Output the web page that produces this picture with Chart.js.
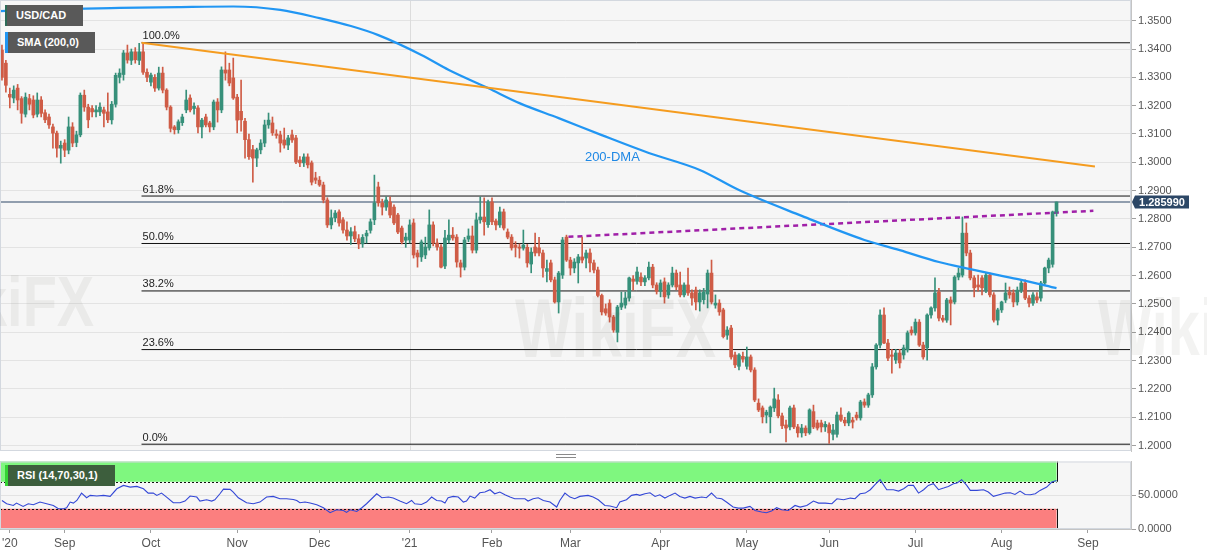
<!DOCTYPE html>
<html>
<head>
<meta charset="utf-8">
<title>USD/CAD daily with 200-DMA and RSI</title>
<script src="https://cdn.jsdelivr.net/npm/chart.js@4.4.1/dist/chart.umd.min.js"></script>
<style>
  html, body { margin: 0; padding: 0; background: #fff; }
  #wrap { position: relative; width: 1207px; height: 555px; overflow: hidden; font-family: "Liberation Sans", Arial, sans-serif; }
  canvas { position: absolute; left: 0; }
  #priceCanvas { top: 0; }
  #rsiCanvas { top: 452px; }
  .tag { position: absolute; left: 5px; height: 21px; line-height: 21px; color: #fff; font-weight: bold; font-size: 11px; padding-left: 9px; box-sizing: border-box; background: #595959; }
  #tagPair { top: 5px; width: 78px; border-left: 2px solid #2c6b58; }
  #tagSma { top: 32px; width: 90px; border-left: 3px solid #2196f3; }
  #tagRsi { top: 465px; width: 110px; background: #3d5e3d; border-left: 3px solid #35d335; }
  .wm { position: absolute; font-weight: 900; color: rgba(90, 80, 70, 0.07); pointer-events: none; white-space: nowrap; transform-origin: left top; }
  #grip { position: absolute; left: 556px; top: 454px; width: 20px; height: 2px; border-top: 1px solid #8a8a8a; border-bottom: 1px solid #8a8a8a; }
</style>
</head>
<body>
<div id="wrap">
  <canvas id="priceCanvas" width="1207" height="452"></canvas>
  <canvas id="rsiCanvas" width="1207" height="103"></canvas>
  <div class="wm" style="left:-92px; top:262px; font-size:70px; transform:scaleX(0.8);">WikiFX</div>
  <div class="wm" style="left:515px; top:280px; font-size:84px; transform:scaleX(0.72);">WikiFX</div>
  <div class="wm" style="left:1098px; top:282px; font-size:80px; transform:scaleX(0.72);">WikiFX</div>
  <div class="tag" id="tagPair">USD/CAD</div>
  <div class="tag" id="tagSma">SMA (200,0)</div>
  <div class="tag" id="tagRsi">RSI (14,70,30,1)</div>
  <div id="grip"></div>
</div>
<script>
// daily candles, trading day index 0 = 10 Aug 2020 ... 269 = 20 Aug 2021
// [open, high, low, close]
const candles = [
  [1.3396,1.3414,1.3290,1.3300],[1.3350,1.3360,1.3248,1.3272],[1.3240,1.3262,1.3192,1.3230],[1.3227,1.3270,1.3210,1.3255],
  [1.3262,1.3275,1.3185,1.3220],[1.3225,1.3232,1.3138,1.3173],[1.3170,1.3245,1.3160,1.3230],[1.3225,1.3240,1.3185,1.3205],
  [1.3220,1.3235,1.3157,1.3167],[1.3170,1.3245,1.3160,1.3220],[1.3220,1.3232,1.3160,1.3173],[1.3175,1.3185,1.3140,1.3150],
  [1.3160,1.3170,1.3120,1.3132],[1.3125,1.3135,1.3050,1.3103],[1.3103,1.3110,1.3018,1.3050],[1.3050,1.3075,1.2997,1.3060],
  // Sep 2020
  [1.3068,1.3080,1.3020,1.3043],[1.3043,1.3160,1.3030,1.3125],[1.3125,1.3140,1.3055,1.3068],[1.3070,1.3110,1.3055,1.3097],
  [1.3097,1.3245,1.3090,1.3237],[1.3237,1.3255,1.3180,1.3195],[1.3195,1.3205,1.3122,1.3150],[1.3190,1.3200,1.3160,1.3178],
  [1.3178,1.3200,1.3160,1.3185],[1.3178,1.3210,1.3165,1.3195],[1.3185,1.3195,1.3125,1.3173],[1.3178,1.3245,1.3140,1.3150],
  [1.3150,1.3215,1.3135,1.3205],[1.3205,1.3315,1.3195,1.3307],[1.3300,1.3330,1.3280,1.3315],[1.3310,1.3395,1.3290,1.3386],
  [1.3386,1.3414,1.3350,1.3361],[1.3360,1.3400,1.3345,1.3390],[1.3390,1.3405,1.3350,1.3362],[1.3360,1.3420,1.3345,1.3390],
  [1.3390,1.3420,1.3310,1.3318],[1.3318,1.3330,1.3285,1.3300],
  // Oct 2020
  [1.3283,1.3315,1.3270,1.3308],[1.3300,1.3310,1.3250,1.3262],[1.3262,1.3336,1.3255,1.3315],[1.3315,1.3336,1.3245,1.3255],
  [1.3255,1.3260,1.3185,1.3195],[1.3195,1.3200,1.3107,1.3120],[1.3125,1.3130,1.3100,1.3115],[1.3115,1.3150,1.3103,1.3143],
  [1.3140,1.3170,1.3130,1.3160],[1.3185,1.3255,1.3175,1.3220],[1.3227,1.3238,1.3178,1.3185],[1.3190,1.3210,1.3170,1.3198],
  [1.3192,1.3200,1.3104,1.3125],[1.3125,1.3155,1.3086,1.3149],[1.3160,1.3170,1.3125,1.3132],[1.3139,1.3145,1.3107,1.3125],
  [1.3125,1.3220,1.3115,1.3213],[1.3213,1.3225,1.3142,1.3185],[1.3185,1.3337,1.3175,1.3326],[1.3326,1.3390,1.3290,1.3315],
  [1.3326,1.3350,1.3270,1.3280],[1.3298,1.3368,1.3222,1.3227],
  // Nov 2020
  [1.3230,1.3240,1.3104,1.3149],[1.3180,1.3290,1.3110,1.3150],[1.3145,1.3155,1.3015,1.3080],[1.3080,1.3100,1.3010,1.3020],
  [1.3045,1.3060,1.2930,1.3015],[1.3015,1.3050,1.2985,1.3044],[1.3044,1.3080,1.3030,1.3068],[1.3068,1.3149,1.3055,1.3132],
  [1.3132,1.3174,1.3120,1.3149],[1.3139,1.3160,1.3095,1.3104],[1.3100,1.3115,1.3085,1.3095],[1.3097,1.3110,1.3036,1.3068],
  [1.3079,1.3121,1.3050,1.3061],[1.3061,1.3095,1.3045,1.3086],[1.3097,1.3114,1.3070,1.3079],[1.3086,1.3095,1.2995,1.3001],
  [1.3008,1.3020,1.2985,1.2998],[1.2998,1.3030,1.2985,1.3019],[1.3019,1.3030,1.2980,1.2991],[1.2998,1.3005,1.2920,1.2930],
  [1.2945,1.2965,1.2925,1.2937],
  // Dec 2020
  [1.2937,1.2950,1.2915,1.2920],[1.2920,1.2930,1.2857,1.2867],[1.2867,1.2875,1.2770,1.2779],[1.2779,1.2832,1.2765,1.2804],
  [1.2804,1.2830,1.2790,1.2821],[1.2825,1.2832,1.2775,1.2786],[1.2797,1.2805,1.2750,1.2761],[1.2761,1.2790,1.2725,1.2740],
  [1.2740,1.2770,1.2710,1.2755],[1.2755,1.2775,1.2720,1.2730],[1.2730,1.2745,1.2695,1.2712],[1.2712,1.2745,1.2700,1.2735],
  [1.2740,1.2760,1.2715,1.2750],[1.2760,1.2800,1.2750,1.2790],[1.2797,1.2955,1.2780,1.2857],[1.2913,1.2930,1.2845,1.2857],
  [1.2857,1.2870,1.2814,1.2842],[1.2842,1.2878,1.2830,1.2867],[1.2860,1.2878,1.2805,1.2814],[1.2842,1.2850,1.2780,1.2786],
  [1.2814,1.2820,1.2748,1.2754],[1.2768,1.2775,1.2712,1.2719],[1.2725,1.2750,1.2700,1.2736],
  // Jan 2021
  [1.2726,1.2797,1.2715,1.2779],[1.2786,1.2800,1.2662,1.2673],[1.2680,1.2690,1.2630,1.2666],[1.2666,1.2726,1.2650,1.2719],
  [1.2673,1.2736,1.2660,1.2701],[1.2698,1.2832,1.2690,1.2779],[1.2779,1.2790,1.2705,1.2715],[1.2715,1.2730,1.2690,1.2701],
  [1.2701,1.2710,1.2627,1.2630],[1.2634,1.2760,1.2625,1.2733],[1.2726,1.2797,1.2715,1.2743],[1.2743,1.2770,1.2725,1.2733],
  [1.2736,1.2745,1.2630,1.2648],[1.2645,1.2655,1.2595,1.2630],[1.2630,1.2735,1.2620,1.2726],[1.2729,1.2765,1.2720,1.2740],
  [1.2740,1.2775,1.2680,1.2690],[1.2690,1.2821,1.2680,1.2797],[1.2797,1.2878,1.2785,1.2807],[1.2807,1.2875,1.2743,1.2790],
  [1.2780,1.2867,1.2770,1.2860],
  // Feb 2021
  [1.2860,1.2875,1.2780,1.2790],[1.2793,1.2800,1.2761,1.2779],[1.2779,1.2842,1.2770,1.2825],[1.2825,1.2835,1.2761,1.2768],
  [1.2754,1.2765,1.2730,1.2736],[1.2736,1.2745,1.2690,1.2698],[1.2708,1.2720,1.2666,1.2700],[1.2701,1.2712,1.2662,1.2697],
  [1.2697,1.2761,1.2690,1.2708],[1.2700,1.2710,1.2630,1.2645],[1.2641,1.2698,1.2610,1.2683],[1.2701,1.2750,1.2670,1.2680],
  [1.2698,1.2735,1.2670,1.2680],[1.2680,1.2690,1.2595,1.2627],[1.2615,1.2655,1.2578,1.2625],[1.2645,1.2655,1.2578,1.2585],
  [1.2585,1.2595,1.2503,1.2507],[1.2507,1.2615,1.2468,1.2609],[1.2602,1.2735,1.2590,1.2726],[1.2736,1.2743,1.2650,1.2655],
  // Mar 2021
  [1.2655,1.2665,1.2602,1.2627],[1.2627,1.2660,1.2610,1.2648],[1.2645,1.2675,1.2574,1.2666],[1.2666,1.2736,1.2645,1.2655],
  [1.2662,1.2690,1.2627,1.2680],[1.2680,1.2695,1.2613,1.2645],[1.2645,1.2655,1.2610,1.2620],[1.2620,1.2630,1.2525,1.2530],
  [1.2530,1.2535,1.2461,1.2472],[1.2483,1.2500,1.2460,1.2468],[1.2503,1.2515,1.2436,1.2454],[1.2454,1.2460,1.2400,1.2408],
  [1.2400,1.2495,1.2366,1.2489],[1.2489,1.2542,1.2480,1.2503],[1.2496,1.2542,1.2485,1.2521],[1.2521,1.2595,1.2510,1.2592],
  [1.2588,1.2600,1.2549,1.2580],[1.2580,1.2630,1.2570,1.2613],[1.2595,1.2610,1.2565,1.2578],[1.2578,1.2600,1.2565,1.2592],
  [1.2592,1.2648,1.2585,1.2630],[1.2630,1.2640,1.2557,1.2567],[1.2567,1.2575,1.2535,1.2545],
  // Apr 2021
  [1.2545,1.2585,1.2525,1.2574],[1.2578,1.2592,1.2503,1.2525],[1.2532,1.2575,1.2520,1.2567],[1.2567,1.2630,1.2560,1.2609],
  [1.2609,1.2620,1.2550,1.2560],[1.2567,1.2613,1.2525,1.2532],[1.2532,1.2575,1.2525,1.2567],[1.2567,1.2627,1.2530,1.2539],
  [1.2539,1.2550,1.2496,1.2521],[1.2549,1.2560,1.2479,1.2507],[1.2507,1.2550,1.2475,1.2539],[1.2515,1.2555,1.2500,1.2542],
  [1.2535,1.2620,1.2486,1.2609],[1.2609,1.2655,1.2500,1.2507],[1.2496,1.2532,1.2485,1.2503],[1.2503,1.2515,1.2460,1.2472],
  [1.2479,1.2485,1.2380,1.2385],[1.2390,1.2420,1.2375,1.2408],[1.2415,1.2425,1.2305,1.2313],[1.2320,1.2330,1.2275,1.2285],
  [1.2280,1.2325,1.2267,1.2320],[1.2315,1.2330,1.2295,1.2305],
  // May 2021
  [1.2280,1.2348,1.2270,1.2313],[1.2313,1.2320,1.2260,1.2267],[1.2267,1.2275,1.2155,1.2161],[1.2150,1.2165,1.2120,1.2126],
  [1.2133,1.2140,1.2080,1.2102],[1.2108,1.2125,1.2080,1.2118],[1.2102,1.2140,1.2045,1.2136],[1.2133,1.2203,1.2120,1.2165],
  [1.2161,1.2180,1.2098,1.2105],[1.2105,1.2115,1.2060,1.2070],[1.2073,1.2090,1.2013,1.2062],[1.2066,1.2140,1.2055,1.2133],
  [1.2133,1.2143,1.2060,1.2066],[1.2066,1.2075,1.2030,1.2045],[1.2045,1.2075,1.2030,1.2062],[1.2062,1.2070,1.2035,1.2045],
  [1.2045,1.2130,1.2040,1.2126],[1.2120,1.2143,1.2060,1.2066],[1.2080,1.2090,1.2055,1.2062],[1.2080,1.2090,1.2048,1.2066],
  [1.2066,1.2085,1.2050,1.2075],
  // Jun 2021
  [1.2073,1.2080,1.2008,1.2045],[1.2040,1.2075,1.2020,1.2055],[1.2040,1.2118,1.2030,1.2108],[1.2108,1.2133,1.2085,1.2090],
  [1.2090,1.2100,1.2070,1.2080],[1.2080,1.2120,1.2070,1.2115],[1.2090,1.2100,1.2062,1.2083],[1.2108,1.2118,1.2090,1.2098],
  [1.2098,1.2160,1.2090,1.2154],[1.2154,1.2165,1.2135,1.2143],[1.2143,1.2185,1.2135,1.2179],[1.2179,1.2290,1.2170,1.2278],
  [1.2278,1.2360,1.2270,1.2355],[1.2355,1.2479,1.2345,1.2461],[1.2461,1.2486,1.2360,1.2362],[1.2362,1.2375,1.2300,1.2309],
  [1.2320,1.2340,1.2256,1.2315],[1.2302,1.2340,1.2290,1.2327],[1.2327,1.2340,1.2274,1.2292],[1.2320,1.2355,1.2305,1.2345],
  [1.2338,1.2405,1.2330,1.2398],[1.2408,1.2420,1.2390,1.2398],
  // Jul 2021
  [1.2398,1.2447,1.2390,1.2436],[1.2436,1.2445,1.2350,1.2355],[1.2355,1.2365,1.2305,1.2313],[1.2345,1.2465,1.2302,1.2461],
  [1.2461,1.2490,1.2450,1.2486],[1.2486,1.2592,1.2475,1.2539],[1.2542,1.2555,1.2440,1.2450],[1.2450,1.2460,1.2436,1.2443],
  [1.2443,1.2520,1.2435,1.2514],[1.2514,1.2525,1.2426,1.2503],[1.2507,1.2600,1.2500,1.2595],[1.2595,1.2627,1.2585,1.2609],
  [1.2602,1.2807,1.2595,1.2750],[1.2750,1.2786,1.2670,1.2680],[1.2680,1.2690,1.2585,1.2592],[1.2592,1.2600,1.2525,1.2557],
  [1.2567,1.2602,1.2545,1.2560],[1.2592,1.2600,1.2532,1.2557],[1.2549,1.2610,1.2540,1.2602],[1.2602,1.2609,1.2525,1.2532],
  [1.2532,1.2540,1.2436,1.2443],[1.2443,1.2485,1.2426,1.2479],
  // Aug 2021
  [1.2479,1.2510,1.2470,1.2507],[1.2514,1.2574,1.2505,1.2539],[1.2542,1.2560,1.2520,1.2532],[1.2539,1.2550,1.2490,1.2507],
  [1.2507,1.2560,1.2496,1.2549],[1.2549,1.2585,1.2540,1.2574],[1.2574,1.2585,1.2515,1.2521],[1.2521,1.2530,1.2490,1.2503],
  [1.2503,1.2540,1.2495,1.2532],[1.2525,1.2540,1.2505,1.2514],[1.2521,1.2580,1.2510,1.2574],[1.2574,1.2630,1.2565,1.2627],
  [1.2627,1.2662,1.2610,1.2655],[1.2640,1.2828,1.2630,1.2825],[1.2825,1.2860,1.2810,1.2860]
];

// 200-day SMA: [day index, price]
const sma200 = [
  [-0.5,1.3534],[15,1.3541],[30,1.3545],[45,1.3548],[59,1.3550],[71,1.3538],[81,1.3509],[89,1.3481],
  [96,1.3449],[107,1.3379],[114,1.3326],[124,1.3262],[132,1.3209],[142,1.3156],[153,1.3096],[165,1.3033],
  [178,1.2973],[188,1.2902],[204,1.2811],[220,1.2726],[229,1.2690],[239,1.2648],[247,1.2623],[255,1.2599],
  [260,1.2585],[269,1.2556]
];

// RSI(14): [day index, value]
const rsi14 = [
  [0,42.3],[1.2,37.4],[2.9,34.9],[3.7,38.4],[5.4,33.5],[6.7,37.4],[8,35.9],[9.7,39.9],[11.4,37.4],[13.1,34.9],
  [14.4,30],[15.7,30],[16.5,31.5],[17.4,39.9],[18.2,38.4],[19.1,42.3],[20.3,53.2],[21.6,46.3],[22.5,49.8],[24.2,48.8],
  [25.9,49.8],[27.6,48.3],[29.3,59.6],[31,64.6],[32.7,62.1],[34.4,63.1],[36.1,59.6],[37.3,53.2],[38.6,53.2],[39.5,49.8],
  [40.7,53.2],[42,47.3],[43.7,38.9],[45.4,38.9],[46.7,41.4],[48,48.8],[49.7,47.3],[50.5,41.4],[52.2,43.3],[53.5,41.4],
  [54.3,43.3],[55.6,52.2],[56.5,59.1],[58.2,58.7],[59,54.7],[60.3,46.3],[62.4,38.9],[64.1,37.4],[65.8,39.9],[67.5,47.3],
  [69.2,48.3],[70.9,44.8],[72.6,44.8],[74.3,43.8],[75.2,42.3],[76,38.9],[77.3,39.9],[78.6,38.4],[80.3,35.9],[82,31.5],
  [83.7,24.1],[85.4,28.5],[87.1,27.5],[87.9,24.6],[88.8,28.5],[90.5,26],[91.8,31.5],[93,37.4],[95.6,52.2],[96.9,46.3],
  [98.6,47.3],[99.8,45.8],[101.5,41.4],[103.2,37.4],[104.5,42.3],[105.3,37.4],[107,36.4],[108.3,39.9],[109.6,47.3],[110.9,42.3],
  [112.1,41.4],[113,38.4],[113.8,46.3],[115.1,48.3],[116.4,47.3],[117.7,39.9],[118.5,41.4],[119.4,48.8],[120.6,45.8],[121.9,53.7],
  [123.2,54.7],[124.5,58.2],[125.7,52.2],[127,54.7],[128.3,50.7],[129.6,47.3],[130.8,44.8],[133.4,44.8],[134.2,41.4],[135.5,44.8],
  [136.8,46.3],[138.1,42.3],[139.8,39.9],[141.5,32.5],[142.3,42.3],[143.6,53.2],[144.9,47.3],[146.1,44.8],[147.4,48.3],[149.5,49.8],
  [150.8,47.3],[152.1,43.3],[153.8,34.9],[155.1,34],[156.8,31.5],[157.6,39.9],[159.3,43.3],[160.6,49.8],[161.9,51.2],[162.7,49.8],
  [164,52.2],[165.3,53.7],[166.6,48.3],[167.8,50.7],[169.1,45.8],[170.4,49.8],[171.7,53.2],[172.9,48.3],[174.2,45.8],[175.5,48.3],
  [176.8,45.8],[178.5,47.3],[179.7,46.3],[181,53.2],[182.3,45.8],[183.6,44.8],[184.8,39.9],[186.5,32.5],[187.8,31],[189.1,31],
  [190.8,33.5],[192.1,27.5],[193.8,25.1],[195,24.1],[196.3,26.5],[197.6,31.5],[198.9,28.5],[200.6,27.5],[202.3,34.9],[203.6,32.5],
  [205.3,34.9],[207,41.4],[208.3,38.4],[210,38.4],[211.7,37.4],[213,44.8],[214.7,43.3],[216.4,45.8],[217.6,44.8],[218.9,52.2],
  [220.2,53.2],[221.5,58.2],[222.7,65.6],[224,73],[225.7,58.2],[227.4,58.2],[228.7,56.2],[230,59.6],[231.2,64.6],[232.5,64.6],
  [233.8,53.2],[235.1,58.2],[236.3,64.6],[237.6,67.1],[238.9,58.2],[240.2,60.6],[241.4,63.1],[242.7,67.1],[243.6,68],[244.8,73],
  [246.1,64.6],[247,57.2],[248.7,57.2],[250.4,58.2],[251.6,54.7],[252.9,48.3],[254.6,51.2],[255.9,53.2],[257.2,53.7],[258.4,51.2],
  [259.7,56.2],[261,51.2],[262.3,50.7],[263.6,52.2],[264.8,57.2],[266.5,62.1],[267.8,69.5],[269,72]
];

// drawn studies
const trendDown = [[35.6,1.3422],[278.8,1.2985]];     // orange line off the Sep high
const trendUp = [[144.5,1.2737],[278.4,1.2829]];      // purple dashed line
const fibStart = 35.6;
const fibLevels = [1.3422, 1.2881, 1.27135, 1.2546, 1.2339, 1.2005];
const fibNames = ['100.0%', '61.8%', '50.0%', '38.2%', '23.6%', '0.0%'];
const lastPrice = 1.28599;

// axes
const priceTicks = [1.20,1.21,1.22,1.23,1.24,1.25,1.26,1.27,1.28,1.29,1.30,1.31,1.32,1.33,1.34,1.35];
const rsiTicks = [0, 50];
const rsiBands = { upper: 70, lower: 30 };
const tickIdx = [2, 16, 38, 60, 81, 104, 125, 145, 168, 190, 211, 233, 255, 277];
const tickText = ["'20", 'Sep', 'Oct', 'Nov', 'Dec', "'21", 'Feb', 'Mar', 'Apr', 'May', 'Jun', 'Jul', 'Aug', 'Sep'];

const X_MIN = -0.5, X_MAX = 288;
const UP = '#37907a', DOWN = '#cf5c46';
const FONT = '"Liberation Sans", Arial, sans-serif';
const PANE_BG = '#f6f6f6';
const AXIS_W = 76;
const lastIdx = candles.length - 1;

const pts = arr => arr.map(p => ({ x: p[0], y: p[1] }));
const candleColor = ctx => {
    const c = candles[ctx.dataIndex];
    return c && c[3] >= c[0] ? UP : DOWN;
};

function paneBackground(chart) {
    const { ctx, chartArea: a } = chart;
    ctx.save();
    ctx.fillStyle = PANE_BG;
    ctx.fillRect(a.left, a.top, a.right - a.left, a.bottom - a.top);
    ctx.restore();
}
function paneBorder(chart) {
    const { ctx, chartArea: a } = chart;
    ctx.save();
    ctx.strokeStyle = '#d3d8df';
    ctx.lineWidth = 1;
    ctx.strokeRect(a.left + 0.5, a.top + 0.5, a.right - a.left - 1, a.bottom - a.top - 1);
    ctx.restore();
}

const priceDecor = {
    id: 'priceDecor',
    beforeDraw(chart) { paneBackground(chart); },
    beforeDatasetsDraw(chart) {
        // year separator
        const { ctx, chartArea: a, scales: { x } } = chart;
        const px = Math.round(x.getPixelForValue(104)) + 0.5;
        ctx.save();
        ctx.strokeStyle = '#dcdcdc';
        ctx.beginPath(); ctx.moveTo(px, a.top); ctx.lineTo(px, a.bottom); ctx.stroke();
        ctx.restore();
    },
    afterDatasetsDraw(chart) {
        const { ctx, chartArea: a, scales: { x, y } } = chart;
        ctx.save();
        // fibonacci labels
        ctx.font = '11px ' + FONT;
        ctx.fillStyle = '#222';
        ctx.textAlign = 'left';
        ctx.textBaseline = 'bottom';
        fibLevels.forEach((lv, k) => {
            ctx.fillText(fibNames[k], x.getPixelForValue(fibStart) + 1, y.getPixelForValue(lv) - 1);
        });
        // SMA caption
        ctx.font = '13px ' + FONT;
        ctx.fillStyle = '#1e88e5';
        ctx.textBaseline = 'middle';
        ctx.fillText('200-DMA', x.getPixelForValue(148.7), y.getPixelForValue(1.3019));
        // last price tag on the axis
        const yy = Math.round(y.getPixelForValue(lastPrice));
        const l = a.right;
        ctx.fillStyle = '#2c4766';
        ctx.beginPath();
        ctx.moveTo(l + 1, yy);
        ctx.lineTo(l + 4, yy - 6.5);
        ctx.lineTo(l + 58, yy - 6.5);
        ctx.lineTo(l + 58, yy + 6.5);
        ctx.lineTo(l + 4, yy + 6.5);
        ctx.closePath();
        ctx.fill();
        ctx.font = 'bold 11px ' + FONT;
        ctx.fillStyle = '#fff';
        ctx.textAlign = 'center';
        ctx.fillText(lastPrice.toFixed(6), l + 31, yy + 0.5);
        ctx.restore();
        paneBorder(chart);
    }
};

const rsiDecor = {
    id: 'rsiDecor',
    beforeDraw(chart) { paneBackground(chart); },
    beforeDatasetsDraw(chart) {
        const { ctx, scales: { x, y } } = chart;
        const x0 = x.getPixelForValue(X_MIN), x1 = x.getPixelForValue(lastIdx);
        const yTop = y.getPixelForValue(100), yUp = y.getPixelForValue(rsiBands.upper);
        const yLo = y.getPixelForValue(rsiBands.lower), yBot = y.getPixelForValue(0);
        ctx.save();
        ctx.fillStyle = '#7ff77f';
        ctx.fillRect(x0, yTop, x1 - x0, yUp - yTop);
        ctx.fillStyle = '#fb7f7f';
        ctx.fillRect(x0, yLo, x1 - x0, yBot - yLo);
        ctx.strokeStyle = '#111';
        ctx.lineWidth = 1;
        ctx.setLineDash([2, 2]);
        ctx.beginPath();
        ctx.moveTo(x0, Math.round(yUp) + 0.5); ctx.lineTo(x1, Math.round(yUp) + 0.5);
        ctx.moveTo(x0, Math.round(yLo) + 0.5); ctx.lineTo(x1, Math.round(yLo) + 0.5);
        ctx.stroke();
        ctx.setLineDash([]);
        ctx.beginPath();
        ctx.moveTo(Math.round(x1) + 0.5, yTop); ctx.lineTo(Math.round(x1) + 0.5, yUp);
        ctx.moveTo(Math.round(x1) + 0.5, yLo); ctx.lineTo(Math.round(x1) + 0.5, yBot);
        ctx.moveTo(x0 + 0.5, yLo); ctx.lineTo(x0 + 0.5, yBot);
        ctx.stroke();
        ctx.restore();
    },
    afterDatasetsDraw(chart) { paneBorder(chart); }
};

const rightAxisFit = s => { s.width = AXIS_W; s.paddingTop = 0; s.paddingBottom = 0; };
const axisFont = { family: FONT, size: 11 };

// price pane
const fibSets = fibLevels.map(lv => ({
    type: 'line',
    data: [{ x: fibStart, y: lv }, { x: X_MAX, y: lv }],
    borderColor: '#111', borderWidth: 1, pointRadius: 0, order: 10
}));

new Chart(document.getElementById('priceCanvas'), {
    type: 'bar',
    data: {
        datasets: [
            ...fibSets,
            {
                type: 'line',
                data: [{ x: X_MIN, y: lastPrice }, { x: X_MAX, y: lastPrice }],
                borderColor: '#2c4766', borderWidth: 1, pointRadius: 0, order: 9
            },
            {
                type: 'line', data: pts(trendUp),
                borderColor: '#a020a8', borderWidth: 2.5, borderDash: [5, 4], pointRadius: 0, order: 8
            },
            {
                // wicks
                data: candles.map((c, i) => ({ x: i, y: [c[2], c[1]] })),
                backgroundColor: candleColor, grouped: false,
                barPercentage: 1, categoryPercentage: 1, maxBarThickness: 1, order: 6
            },
            {
                // bodies
                data: candles.map((c, i) => ({ x: i, y: [Math.min(c[0], c[3]), Math.max(c[0], c[3])] })),
                backgroundColor: candleColor, grouped: false, minBarLength: 1,
                barPercentage: 1, categoryPercentage: 1, maxBarThickness: 3, order: 5
            },
            {
                type: 'line', data: pts(sma200),
                borderColor: '#2196f3', borderWidth: 2.2, pointRadius: 0,
                cubicInterpolationMode: 'monotone', order: 2
            },
            {
                type: 'line', data: pts(trendDown),
                borderColor: '#f59c1f', borderWidth: 2, pointRadius: 0, order: 1
            }
        ]
    },
    options: {
        responsive: false,
        animation: false,
        devicePixelRatio: 1,
        layout: { padding: { top: 0, bottom: 1, left: 0, right: 0 } },
        plugins: { legend: { display: false }, tooltip: { enabled: false } },
        scales: {
            x: { type: 'linear', min: X_MIN, max: X_MAX, offset: false, display: false, grid: { offset: false } },
            y: {
                position: 'right', min: 1.1981, max: 1.3573,
                afterBuildTicks: s => { s.ticks = priceTicks.map(v => ({ value: v })); },
                afterFit: rightAxisFit,
                ticks: { color: '#555', font: axisFont, padding: 2, callback: v => Number(v).toFixed(4) },
                grid: { color: '#e3e3e3', tickColor: '#a0a0a0', tickLength: 5 },
                border: { color: '#c4c4c4' }
            }
        }
    },
    plugins: [priceDecor]
});

// RSI pane
new Chart(document.getElementById('rsiCanvas'), {
    type: 'line',
    data: {
        datasets: [{
            data: pts(rsi14), borderColor: '#3347d6', borderWidth: 1.1, pointRadius: 0, tension: 0
        }]
    },
    options: {
        responsive: false,
        animation: false,
        devicePixelRatio: 1,
        layout: { padding: { top: 9.5, bottom: 0, left: 0, right: 0 } },
        plugins: { legend: { display: false }, tooltip: { enabled: false } },
        scales: {
            x: {
                type: 'linear', min: X_MIN, max: X_MAX, offset: false,
                afterBuildTicks: s => { s.ticks = tickIdx.map(v => ({ value: v })); },
                afterFit: s => { s.height = 26; s.paddingLeft = 0; s.paddingRight = 0; },
                ticks: {
                    autoSkip: false, maxRotation: 0, color: '#555', font: { family: FONT, size: 12 }, padding: 3,
                    callback: v => tickText[tickIdx.indexOf(v)]
                },
                grid: { drawOnChartArea: false, tickColor: '#a0a0a0', tickLength: 4 },
                border: { color: '#c4c4c4' }
            },
            y: {
                position: 'right', min: 0, max: 100,
                afterBuildTicks: s => { s.ticks = rsiTicks.map(v => ({ value: v })); },
                afterFit: rightAxisFit,
                ticks: { color: '#555', font: axisFont, padding: 2, callback: v => Number(v).toFixed(4) },
                grid: { color: '#e3e3e3', tickColor: '#a0a0a0', tickLength: 5 },
                border: { color: '#c4c4c4' }
            }
        }
    },
    plugins: [rsiDecor]
});
</script>
